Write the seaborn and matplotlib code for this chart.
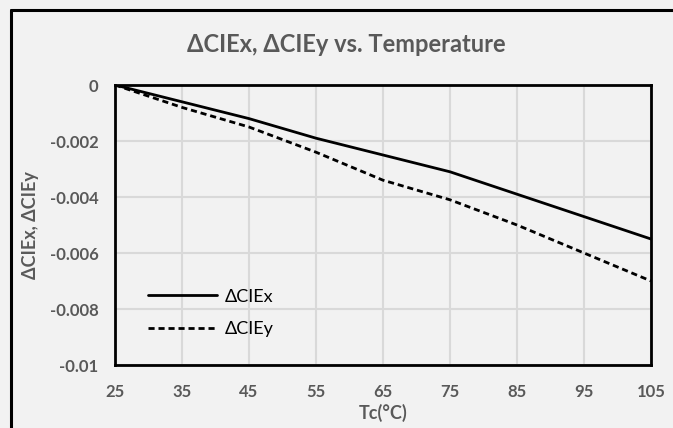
import numpy as np
import pandas as pd
import matplotlib
matplotlib.use('Agg')
import matplotlib.pyplot as plt
import seaborn as sns
from matplotlib.lines import Line2D

# values
temps = [25, 35, 45, 55, 65, 75, 85, 95, 105]
d_ciex = [0.0, -0.0006, -0.0012, -0.0019, -0.0025, -0.0031, -0.0039, -0.0047, -0.0055]
d_ciey = [0.0, -0.0008, -0.0015, -0.0024, -0.0034, -0.0041, -0.0050, -0.0060, -0.0070]
x_ticks = [25, 35, 45, 55, 65, 75, 85, 95, 105]
y_ticks = [0, -0.002, -0.004, -0.006, -0.008, -0.01]
y_tick_labels = ['0', '-0.002', '-0.004', '-0.006', '-0.008', '-0.01']

df = pd.DataFrame({'Tc': temps + temps,
                   'value': d_ciex + d_ciey,
                   'series': ['ΔCIEx'] * len(temps) + ['ΔCIEy'] * len(temps)})

sns.set_style('white')
plt.rcParams['font.family'] = ['Lato', 'DejaVu Sans']
gray = '#595959'
bg = '#f2f2f2'

fig = plt.figure(figsize=(6.73, 4.28), dpi=100, facecolor=bg)
ax = fig.add_axes([115/673, 63/428, 536/673, 280/428])
ax.set_facecolor(bg)

sns.lineplot(data=df, x='Tc', y='value', style='series',
             dashes={'ΔCIEx': '', 'ΔCIEy': (2.2, 1.4)},
             color='black', linewidth=2, ax=ax)

ax.set_xlim(25, 105)
ax.set_ylim(-0.01, 0)
ax.set_xticks(x_ticks)
ax.set_xticklabels([str(t) for t in x_ticks])
ax.set_yticks(y_ticks)
ax.set_yticklabels(y_tick_labels)
ax.grid(True, color='#d9d9d9', linewidth=1.5)
ax.tick_params(length=0, labelsize=12, labelcolor=gray)
ax.tick_params(axis='x', pad=14)
ax.tick_params(axis='y', pad=12)
for lab in ax.get_xticklabels() + ax.get_yticklabels():
    lab.set_fontweight('bold')
for sp in ax.spines.values():
    sp.set_visible(True)
    sp.set_color('black')
    sp.set_linewidth(2)

ax.set_xlabel('Tc(°C)', fontsize=13, fontweight='bold', color=gray, va='center')
ax.set_ylabel('ΔCIEx, ΔCIEy', fontsize=13, fontweight='bold', color=gray, va='center')
ax.xaxis.set_label_coords(0.5, (365 - 413) / 280)
ax.yaxis.set_label_coords((30 - 115) / 536, 0.5)

fig.text(346/673, 1 - 45/428, 'ΔCIEx, ΔCIEy vs. Temperature', ha='center', va='center',
         fontsize=17, fontweight='bold', color=gray)

leg = ax.legend(loc='center left', bbox_to_anchor=(0.0616, 0.186), frameon=False,
                borderpad=0, borderaxespad=0, handlelength=3.8, handletextpad=0.45,
                labelspacing=0.9, fontsize=13)
for t in leg.get_texts():
    t.set_color('black')

# chart-area border: only the left and top edges fall inside the picture
bx, by = 11/673, 1 - 10/428
fig.add_artist(Line2D([bx, bx], [0, by], transform=fig.transFigure, color='black', linewidth=2.2))
fig.add_artist(Line2D([bx, 1], [by, by], transform=fig.transFigure, color='black', linewidth=2.2))

fig.savefig('out.png', dpi=100, facecolor=bg)
